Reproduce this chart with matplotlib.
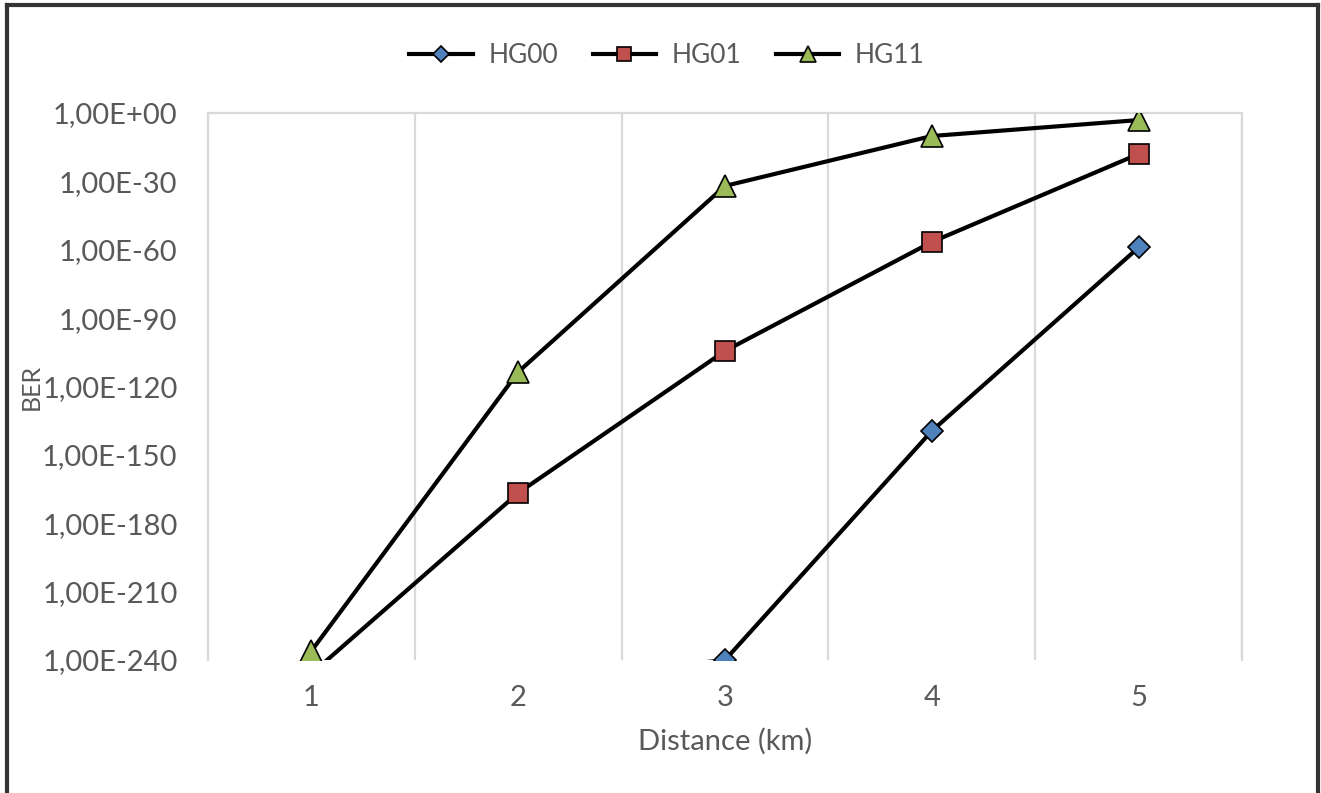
import numpy as np
import matplotlib
matplotlib.use("Agg")
import matplotlib.pyplot as plt
from matplotlib.lines import Line2D
from matplotlib.ticker import FixedLocator, FuncFormatter

# data (BER as log10 exponents)
distance = [1, 2, 3, 4, 5]
hg00_exp = [np.nan, -250, -240, -139.5, -59]
hg01_exp = [-246, -166.7, -104.4, -56.6, -18.0]
hg11_exp = [-236, -113.6, -32.0, -10.1, -3.1]
tick_exps = [0, -30, -60, -90, -120, -150, -180, -210, -240]

series = [
    ("HG00", hg00_exp, "D", "#4f81bd", 11.5),
    ("HG01", hg01_exp, "s", "#c0504d", 14),
    ("HG11", hg11_exp, "^", "#9bbb59", 16),
]

plt.rcParams['font.family'] = ['Lato', 'DejaVu Sans']
txt = "#595959"

fig = plt.figure(figsize=(13.21, 7.93), dpi=100)
ax = fig.add_axes([0.1575, 0.1677, 0.7827, 0.6898])

for name, exps, mk, col, ms in series:
    vals = [10.0 ** e for e in exps]
    ax.plot(distance, vals, color="black", lw=3, marker=mk, markersize=ms,
            markerfacecolor=col, markeredgecolor="black", markeredgewidth=1.2,
            label=name, zorder=3)

ax.set_yscale("log")
ax.set_ylim(1e-240, 1e0)
ax.set_xlim(0.5, 5.5)

ax.yaxis.set_major_locator(FixedLocator([10.0 ** e for e in tick_exps]))
ax.yaxis.set_minor_locator(FixedLocator([]))


def fmt(v, pos):
    e = int(round(np.log10(v)))
    return "1,00E+00" if e == 0 else "1,00E-%02d" % abs(e)


ax.yaxis.set_major_formatter(FuncFormatter(fmt))
ax.set_xticks(distance)
ax.tick_params(axis="both", length=0, labelsize=21, colors=txt)
ax.tick_params(axis="y", pad=22)
ax.tick_params(axis="x", pad=18)

# vertical gridlines between categories
for xg in np.arange(0.5, 6, 1.0):
    ax.axvline(xg, color="#d9d9d9", lw=1.6, zorder=0)

for s in ["left", "right", "top"]:
    ax.spines[s].set_color("#d9d9d9")
    ax.spines[s].set_linewidth(1.6)
ax.spines["bottom"].set_visible(False)

ax.set_xlabel("Distance (km)", fontsize=21, color=txt, labelpad=12)
ax.set_ylabel("BER", fontsize=18, color=txt)
ax.yaxis.set_label_coords(-0.16, 0.5)

fig.legend(loc="center", bbox_to_anchor=(0.505, 0.93), ncol=3, frameon=False,
           fontsize=19, handlelength=2.4, handletextpad=0.6, columnspacing=1.3,
           labelcolor=txt, markerscale=0.75)

# outer frame (no bottom edge)
fk = dict(color="#333333", lw=3, transform=fig.transFigure)
fig.add_artist(Line2D([7 / 1321, 7 / 1321], [0, 1 - 5 / 793], **fk))
fig.add_artist(Line2D([7 / 1321, 1318 / 1321], [1 - 5 / 793, 1 - 5 / 793], **fk))
fig.add_artist(Line2D([1318 / 1321, 1318 / 1321], [0, 1 - 5 / 793], **fk))

fig.savefig("out.png", dpi=100)
